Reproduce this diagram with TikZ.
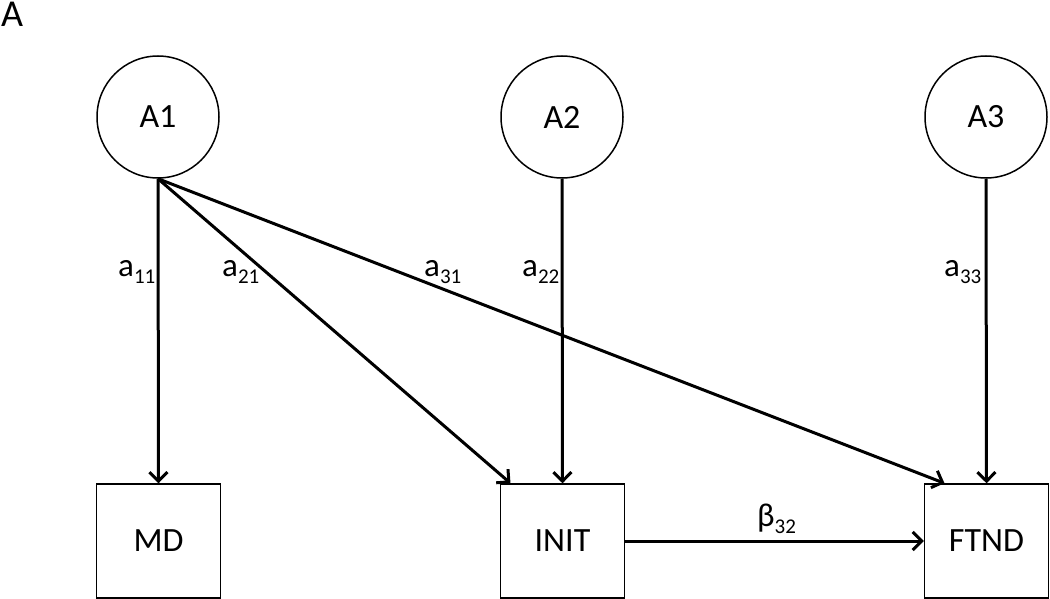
\documentclass[tikz,border=0pt]{standalone}
\usepackage{fontspec}
\setmainfont{Carlito}
\usetikzlibrary{arrows.meta}
\begin{document}
\begin{tikzpicture}[x=1pt,y=-1pt,
  latent/.style={draw,circle,line width=1.5pt,minimum size=122pt,inner sep=0pt,font=\fontsize{34}{38}\selectfont},
  observed/.style={draw,rectangle,line width=1.5pt,minimum width=124pt,minimum height=114pt,inner sep=0pt,font=\fontsize{34}{38}\selectfont},
  path/.style={line width=3pt,-{Straight Barb[length=9pt,width=18pt]}},
  coef/.style={anchor=base west,inner sep=0pt,font=\fontsize{33}{36}\selectfont},
  panel/.style={anchor=base west,inner sep=0pt,text height=25pt,text depth=0pt,font=\fontsize{38}{42}\selectfont}]
\useasboundingbox (0,0) rectangle (1050,599);
\node[panel] (lab) at (1,27) {A};
\node[latent] (A1) at (158,117) {A1};
\node[latent] (A2) at (562,117) {A2};
\node[latent] (A3) at (986,117) {A3};
\node[observed] (MD) at (158.5,541) {MD};
\node[observed] (INIT) at (562.5,541) {INIT};
\node[observed] (FTND) at (986.5,541) {FTND};
\draw[path] (A1.south) -- (MD.north);
\draw[path] (A1.south) -- ([xshift=-52pt]INIT.north);
\draw[path] (A1.south) -- ([xshift=-42pt]FTND.north);
\draw[path] (A2.south) -- (INIT.north);
\draw[path] (A3.south) -- (FTND.north);
\draw[path] (INIT.east) -- (FTND.west);
\newcommand{\sbs}[1]{\raisebox{-7pt}{\fontsize{21}{24}\selectfont #1}}
\node[coef] (c11) at (118,276) {a\sbs{11}};
\node[coef] (c21) at (222,276) {a\sbs{21}};
\node[coef] (c31) at (424,276) {a\sbs{31}};
\node[coef] (c22) at (522,276) {a\sbs{22}};
\node[coef] (c33) at (944,276) {a\sbs{33}};
\node[coef] (b32) at (757,526) {β\sbs{32}};
\end{tikzpicture}
\end{document}
